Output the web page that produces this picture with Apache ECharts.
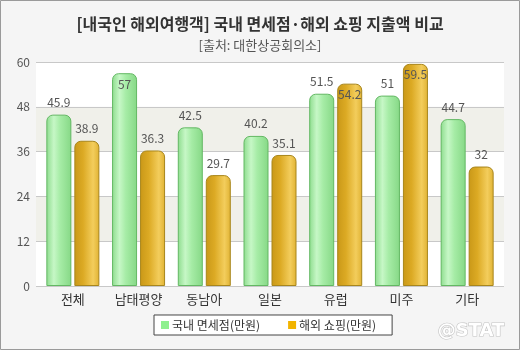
<!DOCTYPE html>
<html>
<head>
<meta charset="utf-8">
<script src="https://cdn.jsdelivr.net/npm/echarts@6/dist/echarts.min.js"></script>
<style>
  html, body { margin: 0; padding: 0; background: #f5f5f5; }
  #chart { width: 520px; height: 350px; }
</style>
</head>
<body>
<div id="chart"></div>
<script>
// Regions and spending per traveller (10,000 won)
const categories = ['전체', '남태평양', '동남아', '일본', '유럽', '미주', '기타'];
const domesticDutyFree = [45.9, 57, 42.5, 40.2, 51.5, 51, 44.7];
const overseasShopping = [38.9, 36.3, 29.7, 35.1, 54.2, 59.5, 32];
const yTicks = [0, 12, 24, 36, 48, 60];

const seriesNames = ['국내 면세점(만원)', '해외 쇼핑(만원)'];
const FONT = '"Noto Sans CJK KR", "Noto Sans", sans-serif';

// labels that sit inside the bar top instead of above it
const insideDomestic = [false, true, false, false, false, false, false];
const insideOverseas = [false, false, false, false, true, true, false];

function makeData(values, inside) {
  return values.map((v, i) => ({
    value: v,
    label: inside[i] ? { position: 'insideTop', distance: 5 } : {}
  }));
}

const greenFill = new echarts.graphic.LinearGradient(0, 0, 1, 0, [
  { offset: 0, color: '#8ddc8d' },
  { offset: 0.3, color: '#c6f7c6' },
  { offset: 0.55, color: '#a6eca6' },
  { offset: 1, color: '#86d886' }
]);
const goldFill = new echarts.graphic.LinearGradient(0, 0, 1, 0, [
  { offset: 0, color: '#c99818' },
  { offset: 0.35, color: '#dcaa24' },
  { offset: 0.75, color: '#f3cd5c' },
  { offset: 1, color: '#e0b232' }
]);

const chart = echarts.init(document.getElementById('chart'), null, { renderer: 'canvas' });

chart.setOption({
  backgroundColor: '#f5f5f5',
  animation: false,
  title: [
    {
      text: '[내국인 해외여행객] 국내 면세점·해외 쇼핑 지출액 비교',
      left: 'center', top: 11,
      textStyle: { fontFamily: FONT, fontSize: 16, fontWeight: 'bold', color: '#333' }
    },
    {
      text: '[출처: 대한상공회의소]',
      left: 'center', top: 34,
      textStyle: { fontFamily: FONT, fontSize: 13, fontWeight: 'normal', color: '#555' }
    }
  ],
  legend: {
    bottom: 15, left: 154,
    itemWidth: 8, itemHeight: 8, itemGap: 28,
    icon: 'rect',
    padding: [4, 16, 4, 7],
    borderColor: '#444', borderWidth: 1,
    backgroundColor: '#fff',
    textStyle: { fontFamily: FONT, fontSize: 12, color: '#333', padding: [0, 0, 0, -2] },
    data: [
      { name: seriesNames[0], itemStyle: { color: '#8ff08f', borderWidth: 0 } },
      { name: seriesNames[1], itemStyle: { color: '#f2b400', borderWidth: 0 } }
    ]
  },
  graphic: [
    {
      type: 'rect', z: -10, silent: true,
      shape: { x: 0.5, y: 0.5, width: 519, height: 349 },
      style: { fill: 'none', stroke: '#9a9a9a', lineWidth: 1 }
    },
    {
      type: 'text', right: 15, bottom: 9, silent: true,
      style: {
        text: '@STAT', font: 'bold 18px "DejaVu Sans", sans-serif',
        fill: '#ffffff', stroke: '#c4c4c4', lineWidth: 1.2,
        shadowColor: 'rgba(0,0,0,0.3)', shadowBlur: 2, shadowOffsetX: 1, shadowOffsetY: 1
      }
    }
  ],
  grid: [
    { left: 40, right: 20, top: 62, bottom: 64 },
    { left: 36, right: 16, top: 62, bottom: 64, z: -1 }
  ],
  xAxis: [
    {
      type: 'category', gridIndex: 0, data: categories,
      axisLine: { show: false }, axisTick: { show: false },
      axisLabel: { fontFamily: FONT, fontSize: 13, color: '#333', margin: 7 }
    },
    {
      type: 'category', gridIndex: 1, data: categories, show: false
    }
  ],
  yAxis: [
    {
      type: 'value', gridIndex: 0, min: 0, max: 60, interval: 12,
      axisLine: { show: false }, axisTick: { show: false },
      splitLine: { show: false },
      axisLabel: {
        fontFamily: FONT, fontSize: 12, color: '#555', margin: 10,
        formatter: v => (yTicks.includes(v) ? String(v) : '')
      }
    },
    {
      type: 'value', gridIndex: 1, min: 0, max: 60, interval: 12,
      axisLine: { show: false }, axisTick: { show: false }, axisLabel: { show: false },
      splitLine: { show: true, lineStyle: { color: '#c8c8c8', width: 1 } },
      splitArea: { show: true, areaStyle: { color: ['#ffffff', '#f0f0ea'] } }
    }
  ],
  series: [
    {
      name: seriesNames[0], type: 'bar', xAxisIndex: 0, yAxisIndex: 0,
      barWidth: 25, barGap: '12%',
      data: makeData(domesticDutyFree, insideDomestic),
      itemStyle: { color: greenFill, borderColor: '#63b863', borderWidth: 1, borderRadius: [6, 6, 0, 0] },
      label: { show: true, position: 'top', distance: 6, fontFamily: FONT, fontSize: 12, color: '#555' }
    },
    {
      name: seriesNames[1], type: 'bar', xAxisIndex: 0, yAxisIndex: 0,
      barWidth: 25,
      data: makeData(overseasShopping, insideOverseas),
      itemStyle: { color: goldFill, borderColor: '#a8861c', borderWidth: 1, borderRadius: [6, 6, 0, 0] },
      label: { show: true, position: 'top', distance: 6, fontFamily: FONT, fontSize: 12, color: '#555' }
    }
  ]
});
</script>
</body>
</html>
